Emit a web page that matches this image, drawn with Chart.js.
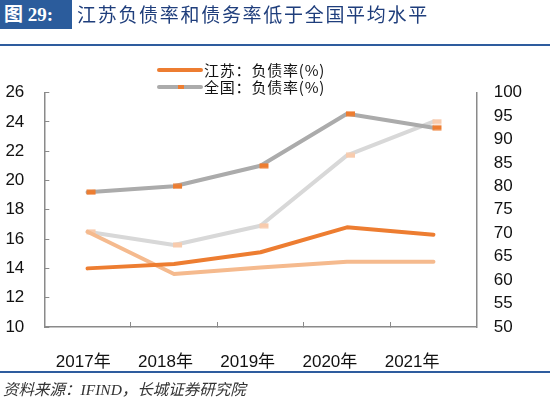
<!DOCTYPE html>
<html><head><meta charset="utf-8">
<script src="https://cdn.jsdelivr.net/npm/chart.js@4"></script>
<style>
html,body{margin:0;padding:0;background:#fff}
body{width:550px;height:399px;position:relative;overflow:hidden;font-family:"Liberation Sans","Noto Sans CJK SC",sans-serif}
#c{position:absolute;left:0;top:0}
#tbox{position:absolute;left:0;top:0;width:72px;height:29px;background:#2b5c9c;color:#fff;font:bold 19px "Liberation Serif","Noto Sans CJK SC",serif;line-height:29px;padding-left:4px;box-sizing:border-box;z-index:2;white-space:nowrap}
#title{position:absolute;left:77px;top:0;height:29px;line-height:29px;color:#1f3e7c;font:19px "Noto Sans CJK SC",sans-serif;letter-spacing:1.7px;z-index:2;white-space:nowrap}
#rule1{position:absolute;left:0;top:44px;width:550px;height:2px;background:#2e5c9e;z-index:2}
#rule2{position:absolute;left:0;top:371px;width:550px;height:2px;background:#2e5c9e;z-index:2}
#src{position:absolute;left:3px;top:377px;font:italic 15.5px "Liberation Serif","Noto Sans CJK SC",serif;color:#333;z-index:2;white-space:nowrap}
.lg{position:absolute;left:155px;height:17px;z-index:2;white-space:nowrap}
.lg .sw{position:absolute;left:2px;top:6px;width:46px;height:4px;border-radius:2px}
.lg .mk{position:absolute;left:23px;top:6px;width:6px;height:4px;background:#ED7D31}
.lg .tx{position:absolute;left:49px;top:-1px;font:15px "Noto Sans CJK SC",sans-serif;color:#111;letter-spacing:0.8px;line-height:17px}
</style></head><body>
<canvas id="c" width="550" height="399"></canvas>
<div id="tbox">图 29:</div>
<div id="title">江苏负债率和债务率低于全国平均水平</div>
<div id="rule1"></div>
<div class="lg" style="top:62px"><div class="sw" style="background:#ED7D31"></div><div class="tx" id="lg1"></div></div>
<div class="lg" style="top:79px"><div class="sw" style="background:#ABABAB"></div><div class="mk"></div><div class="tx" id="lg2"></div></div>
<div id="rule2"></div>
<div id="src">资料来源：IFIND，长城证券研究院</div>
<script>
// ---- data ----
const categories = ['2017年', '2018年', '2019年', '2020年', '2021年'];
const seriesNames = ['江苏：负债率(%)', '全国：负债率(%)', '江苏：债务率(%)', '全国：债务率(%)'];
const jsDebtRatio = [14.0, 14.3, 15.1, 16.8, 16.3];      // left axis
const cnDebtRatio = [19.2, 19.6, 21.0, 24.55, 23.6];     // left axis
const jsDebtBurden = [70.3, 61.3, 62.7, 63.9, 63.9];     // right axis
const cnDebtBurden = [70.3, 67.5, 71.6, 86.6, 93.8];     // right axis
const leftRange = [10, 26, 2];
const rightRange = [50, 100, 5];

document.getElementById('lg1').textContent = seriesNames[0];
document.getElementById('lg2').textContent = seriesNames[1];

function marker(color) {
  const cv = document.createElement('canvas');
  cv.width = 18; cv.height = 6;
  const g = cv.getContext('2d');
  g.fillStyle = color;
  g.fillRect(8, 0.5, 9, 5);
  return cv;
}

const fontTick = {family: '"Liberation Sans","Noto Sans CJK SC",sans-serif', size: 17};

new Chart(document.getElementById('c'), {
  type: 'line',
  data: {
    labels: categories,
    datasets: [
      {label: seriesNames[0], data: jsDebtRatio, yAxisID: 'y', borderColor: '#ED7D31', pointRadius: 0, order: 0},
      {label: seriesNames[1], data: cnDebtRatio, yAxisID: 'y', borderColor: '#ABABAB', pointStyle: marker('#ED7D31'), pointRadius: 5, order: 1},
      {label: seriesNames[2], data: jsDebtBurden, yAxisID: 'y2', borderColor: '#F5BA8E', pointRadius: 0, order: 2},
      {label: seriesNames[3], data: cnDebtBurden, yAxisID: 'y2', borderColor: '#D8D8D8', pointStyle: marker('#F8CBAD'), pointRadius: 5, order: 3}
    ]
  },
  options: {
    responsive: false,
    animation: false,
    events: [],
    datasets: {line: {borderWidth: 4, tension: 0, fill: false, borderCapStyle: 'round', borderJoinStyle: 'round'}},
    layout: {padding: {top: 92.5, left: 0, right: 0, bottom: 0}},
    plugins: {legend: {display: false}, tooltip: {enabled: false}},
    scales: {
      x: {
        type: 'category', position: 'bottom', offset: true,
        grid: {display: true, drawOnChartArea: false, offset: true, tickLength: -5, tickColor: '#8a8a8a', color: '#8a8a8a'},
        border: {display: true, color: '#8a8a8a', width: 1.5},
        ticks: {display: false},
        afterFit: s => { s.height = 1; }
      },
      xl: {
        type: 'linear', axis: 'x', position: 'bottom',
        min: -0.474, max: 4.786,
        grid: {display: false}, border: {display: false},
        afterBuildTicks: s => { s.ticks = categories.map((_, i) => ({value: i})); },
        ticks: {callback: v => categories[v], font: fontTick, color: '#111', padding: 16, maxRotation: 0, autoSkip: false},
        afterFit: s => { s.height = 71; }
      },
      y: {
        type: 'linear', position: 'left',
        min: leftRange[0], max: leftRange[1],
        ticks: {stepSize: leftRange[2], font: fontTick, color: '#111', padding: 25},
        grid: {drawOnChartArea: false, tickLength: -5, tickColor: '#8a8a8a', color: '#8a8a8a'},
        border: {display: true, color: '#8a8a8a', width: 1.5},
        afterFit: s => { s.width = 44.3; }
      },
      y2: {
        type: 'linear', position: 'right',
        min: rightRange[0], max: rightRange[1],
        ticks: {stepSize: rightRange[2], font: fontTick, color: '#111', padding: 17},
        grid: {drawOnChartArea: false, drawTicks: false},
        border: {display: true, color: '#8a8a8a', width: 1.5},
        afterFit: s => { s.width = 73.3; }
      }
    }
  }
});
</script>
</body></html>
